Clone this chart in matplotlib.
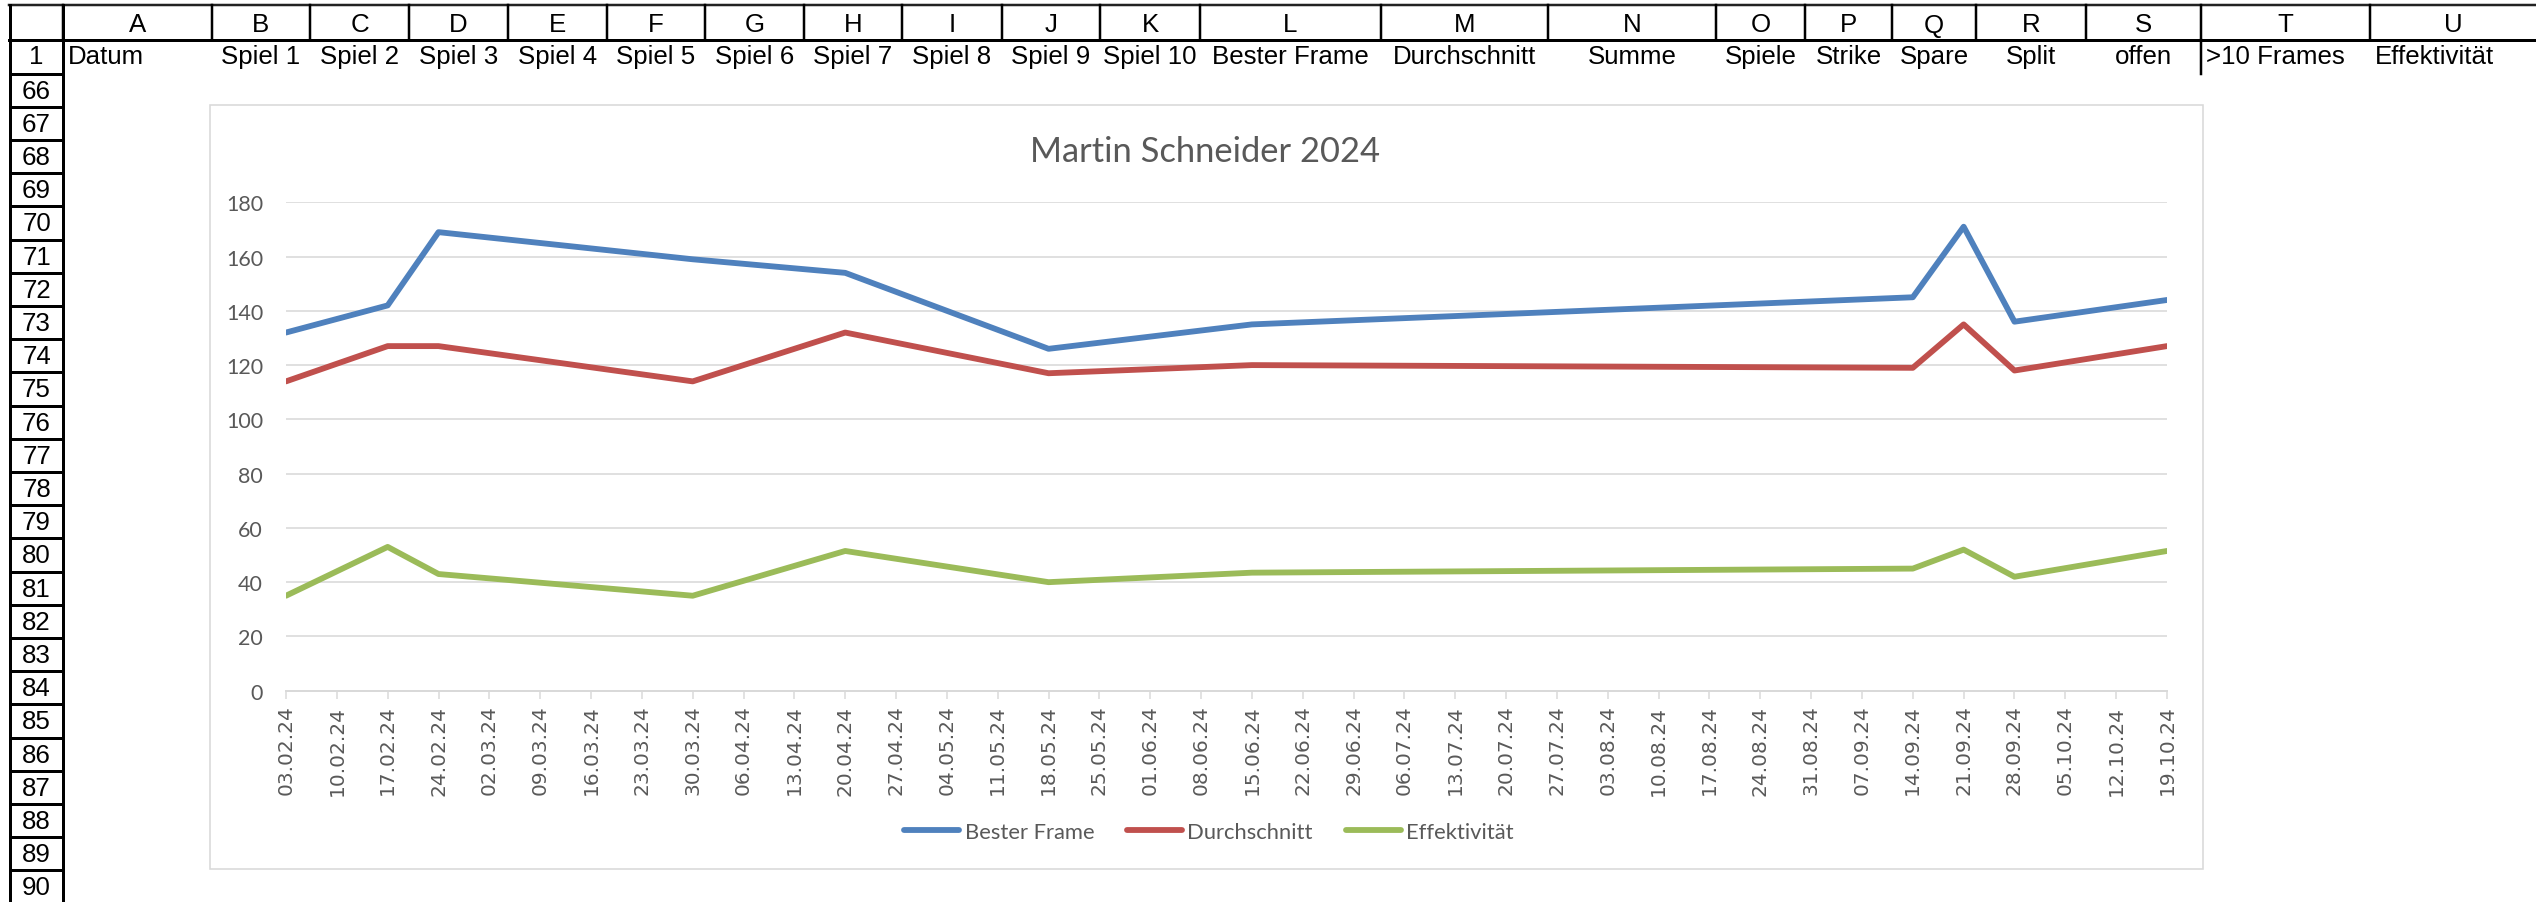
import matplotlib
matplotlib.use("Agg")
import matplotlib.pyplot as plt
import pandas as pd
from matplotlib.patches import Rectangle

# spreadsheet content
col_letters = list("ABCDEFGHIJKLMNOPQRSTU")
header_cells = ["Datum", "Spiel 1", "Spiel 2", "Spiel 3", "Spiel 4", "Spiel 5",
                "Spiel 6", "Spiel 7", "Spiel 8", "Spiel 9", "Spiel 10",
                "Bester Frame", "Durchschnitt", "Summe", "Spiele", "Strike",
                "Spare", "Split", "offen", ">10 Frames", "Effektivität"]
row_numbers = list(range(66, 91))

# chart data
dates = pd.to_datetime(["03.02.24", "17.02.24", "24.02.24", "30.03.24", "20.04.24",
                        "18.05.24", "15.06.24", "14.09.24", "21.09.24", "28.09.24",
                        "19.10.24"], format="%d.%m.%y")
bester_frame = [132, 142, 169, 159, 154, 126, 135, 145, 171, 136, 144]
durchschnitt = [114, 127, 127, 114, 132, 117, 120, 119, 135, 118, 127]
effektivitaet = [35, 53, 43, 35, 51.5, 40, 43.5, 45, 52, 42, 51.5]

W, H = 2536, 903
PX = 72 / 100  # points per pixel at dpi 100

# column borders of the sheet in pixels
col_edges = [63, 212, 310, 409, 508, 607, 705, 804, 902, 1002, 1100, 1200,
             1381, 1548, 1716, 1805, 1892, 1976, 2086, 2201, 2370, 2536]
top_y, head_y, rows_y, row_h = 6, 40.5, 74.5, 33.2

fig = plt.figure(figsize=(W / 100, H / 100), dpi=100)
sheet = fig.add_axes((0, 0, 1, 1))
sheet.set_xlim(0, W)
sheet.set_ylim(H, 0)
sheet.axis("off")

cell_font = dict(family="Liberation Sans", fontsize=18.6, color="black")

# header row with column letters
sheet.plot([9, W], [top_y, top_y], color="#222222", lw=2.5 * PX)
sheet.plot([9, W], [head_y, head_y], color="black", lw=3 * PX)
for x in col_edges[:-1]:
    sheet.plot([x, x], [top_y, head_y], color="black", lw=2.5 * PX)
for i, letter in enumerate(col_letters):
    xc = (col_edges[i] + col_edges[i + 1]) / 2
    sheet.text(xc, 32.5, letter, ha="center", va="baseline", **cell_font)

# row number column
sheet.plot([9.5, 9.5], [top_y, H], color="black", lw=3 * PX)
sheet.plot([63, 63], [top_y, H], color="black", lw=3 * PX)
sheet.text(36.5, 64, "1", ha="center", va="baseline", **cell_font)
for k in range(len(row_numbers) + 1):
    y = rows_y + k * row_h
    sheet.plot([9.5, 63], [y, y], color="black", lw=3 * PX)
for k, num in enumerate(row_numbers):
    yc = rows_y + (k + 0.5) * row_h
    sheet.text(36.5, yc + 7.5, str(num), ha="center", va="baseline", **cell_font)

# row 1 labels
for i, label in enumerate(header_cells):
    left, right = col_edges[i], col_edges[i + 1]
    if label in ("Datum", ">10 Frames", "Effektivität"):
        sheet.text(left + 5, 64, label, ha="left", va="baseline", **cell_font)
    else:
        sheet.text((left + right) / 2, 64, label, ha="center", va="baseline", **cell_font)
sheet.plot([2201, 2201], [head_y, rows_y], color="black", lw=2.5 * PX)

# chart frame
sheet.add_patch(Rectangle((210, 106), 1993, 764, facecolor="white",
                          edgecolor="#D9D9D9", lw=1.6 * PX))
sheet.text(1205, 162, "Martin Schneider 2024", ha="center", va="baseline",
           fontsize=24.8, color="#595959", family="Lato")

plot_l, plot_r, plot_t, plot_b = 286, 2167, 203.3, 691.7
ax = fig.add_axes((plot_l / W, 1 - plot_b / H, (plot_r - plot_l) / W, (plot_b - plot_t) / H))
ax.set_facecolor("white")

line_kw = dict(lw=4.2, solid_capstyle="round", solid_joinstyle="round")
ax.plot(dates, bester_frame, color="#4F81BD", label="Bester Frame", **line_kw)
ax.plot(dates, durchschnitt, color="#C0504D", label="Durchschnitt", **line_kw)
ax.plot(dates, effektivitaet, color="#9BBB59", label="Effektivität", **line_kw)

ax.set_xlim(dates[0], dates[-1])
ax.set_ylim(0, 180)
week_ticks = pd.date_range(dates[0], dates[-1], freq="7D")
ax.set_xticks(week_ticks, [d.strftime("%d.%m.%y") for d in week_ticks],
              rotation=90, fontsize=14.5, color="#595959", family="DejaVu Sans")
yticks = list(range(0, 181, 20))
ax.set_yticks(yticks, [str(v) for v in yticks], fontsize=15.5, color="#595959", family="Lato")
ax.tick_params(axis="x", length=5.5, width=1.5 * PX, color="#D9D9D9", pad=4.5)
ax.tick_params(axis="y", length=0, pad=16.5)
ax.grid(axis="y", color="#D9D9D9", lw=1.6 * PX)
ax.set_axisbelow(True)
for side in ("top", "right", "left"):
    ax.spines[side].set_visible(False)
ax.spines["bottom"].set_color("#D9D9D9")
ax.spines["bottom"].set_linewidth(2 * PX)

fig.legend(loc="center", bbox_to_anchor=(1209 / W, 1 - 833 / H), ncol=3, frameon=False,
           prop=dict(family="Lato", size=15.8), labelcolor="#595959",
           handlelength=2.5, handletextpad=0.25, columnspacing=1.5)

fig.savefig("out.png", dpi=100)
